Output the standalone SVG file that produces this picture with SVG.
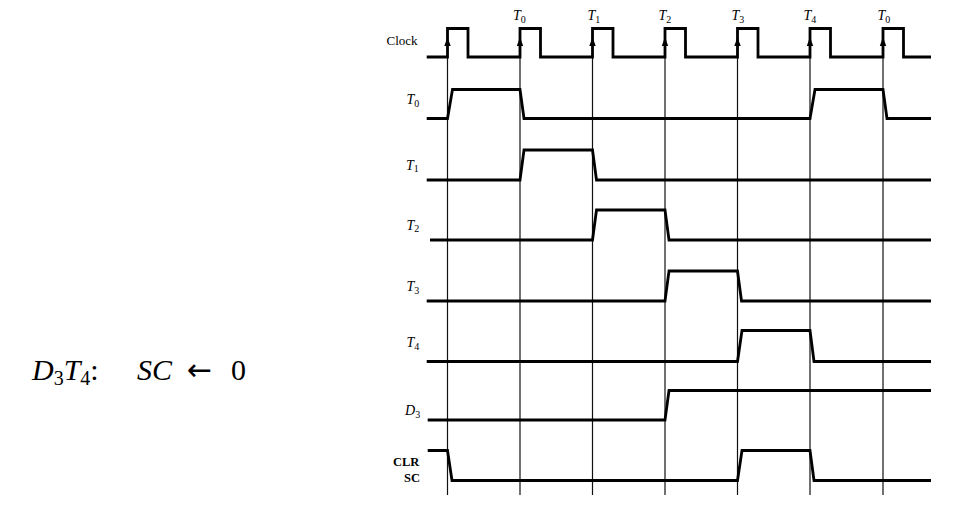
<svg xmlns="http://www.w3.org/2000/svg" width="980" height="510" viewBox="0 0 980 510">
<style>
.sig{fill:none;stroke:#000;stroke-width:2.8;stroke-linejoin:miter}
.grid{stroke:#111;stroke-width:1.2}
.lbl{font-family:"Liberation Serif","Times New Roman",serif;font-size:14px;font-style:italic;fill:#000}
.sub{font-size:10px;font-style:normal}
.clk{font-family:"Liberation Serif","Times New Roman",serif;font-size:13px;fill:#000}
.bold{font-family:"Liberation Serif","Times New Roman",serif;font-size:12.5px;font-weight:bold;fill:#000}
.eq{font-family:"Liberation Serif","Times New Roman",serif;font-size:30px;fill:#000}
.arrow{font-family:"DejaVu Sans",sans-serif;font-size:30px;fill:#000}
.arr{fill:#000}
</style>
<rect width="980" height="510" fill="#fff"/>

<g id="formula">
<text class="eq" x="32" y="380" font-style="italic">D<tspan font-size="20" font-style="normal" dy="5">3</tspan><tspan dy="-5">T</tspan><tspan font-size="20" font-style="normal" dy="5">4</tspan><tspan dy="-5" font-style="normal">:</tspan></text>
<text class="eq" x="137" y="380" font-style="italic">SC</text>
<text class="arrow" x="187" y="380">←</text>
<text class="eq" x="231" y="380">0</text>
</g>

<g id="connectors">
<line class="grid" x1="447.5" y1="28" x2="447.5" y2="495"/>
<line class="grid" x1="520" y1="28" x2="520" y2="495"/>
<line class="grid" x1="592.5" y1="28" x2="592.5" y2="495"/>
<line class="grid" x1="665" y1="28" x2="665" y2="495"/>
<line class="grid" x1="737.5" y1="28" x2="737.5" y2="495"/>
<line class="grid" x1="810" y1="28" x2="810" y2="495"/>
<line class="grid" x1="883" y1="28" x2="883" y2="495"/>
</g>

<g id="clock">
<text class="clk" x="386.5" y="45">Clock</text>
<path class="sig" d="M426.7,57 H447.5 V28.5 H468 V57 H520 V28.5 H540.5 V57 H592.5 V28.5 H613 V57 H665 V28.5 H685.5 V57 H737.5 V28.5 H758 V57 H810 V28.5 H830.5 V57 H883 V28.5 H903.5 V57 H931"/>
<polygon class="arr" points="447.5,37 444.3,46 450.7,46"/>
<polygon class="arr" points="520,37 516.8,46 523.2,46"/>
<polygon class="arr" points="592.5,37 589.3,46 595.7,46"/>
<polygon class="arr" points="665,37 661.8,46 668.2,46"/>
<polygon class="arr" points="737.5,37 734.3,46 740.7,46"/>
<polygon class="arr" points="810,37 806.8,46 813.2,46"/>
<polygon class="arr" points="883,37 879.8,46 886.2,46"/>
<text class="lbl" x="513" y="20">T<tspan class="sub" dy="2.5">0</tspan></text>
<text class="lbl" x="587.5" y="20">T<tspan class="sub" dy="2.5">1</tspan></text>
<text class="lbl" x="658.5" y="20">T<tspan class="sub" dy="2.5">2</tspan></text>
<text class="lbl" x="731.5" y="20">T<tspan class="sub" dy="2.5">3</tspan></text>
<text class="lbl" x="803.5" y="20">T<tspan class="sub" dy="2.5">4</tspan></text>
<text class="lbl" x="877.5" y="20">T<tspan class="sub" dy="2.5">0</tspan></text>
</g>

<g id="T0">
<text class="lbl" x="406.5" y="104">T<tspan class="sub" dy="2.5">0</tspan></text>
<path class="sig" d="M426.7,118.5 H447.5 L452.5,89.5 H520 L524,118.5 H810 L815,89.5 H883 L887,118.5 H931"/>
</g>

<g id="T1">
<text class="lbl" x="406" y="169.5">T<tspan class="sub" dy="2.5">1</tspan></text>
<path class="sig" d="M426.7,180 H520 L524,150 H592.5 L596.5,180 H931"/>
</g>

<g id="T2">
<text class="lbl" x="406.5" y="229.5">T<tspan class="sub" dy="2.5">2</tspan></text>
<path class="sig" d="M430,240 H592.5 L596.5,210 H665 L669,240 H931"/>
</g>

<g id="T3">
<text class="lbl" x="406.5" y="291">T<tspan class="sub" dy="2.5">3</tspan></text>
<path class="sig" d="M426.7,301 H665 L669,271 H737.5 L741.5,301 H931"/>
</g>

<g id="T4">
<text class="lbl" x="406.5" y="347">T<tspan class="sub" dy="2.5">4</tspan></text>
<path class="sig" d="M426.7,361.5 H737.5 L742,330.5 H810 L814,361.5 H931"/>
</g>

<g id="D3">
<text class="lbl" x="405" y="415">D<tspan class="sub" dy="2.5">3</tspan></text>
<path class="sig" d="M427.7,420 H665 L669,390.5 H931"/>
</g>

<g id="CLRSC">
<text class="bold" x="393" y="466">CLR</text>
<text class="bold" x="404" y="481.5">SC</text>
<path class="sig" d="M427.7,450.5 H447.5 L452,480.5 H737.5 L742,450.5 H810 L814,480.5 H931"/>
</g>
</svg>
